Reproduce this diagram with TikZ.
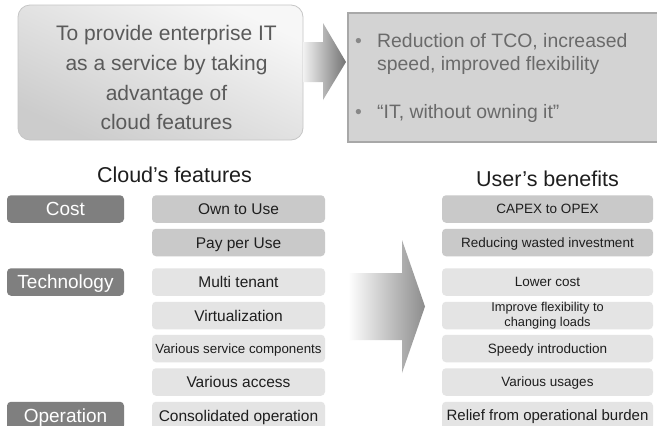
\documentclass[tikz,border=0pt]{standalone}
\usepackage{fontspec}
\setmainfont{Liberation Sans}
\definecolor{catfill}{HTML}{7F7F7F}
\definecolor{darkbox}{HTML}{C9C9C9}
\definecolor{lightbox}{HTML}{E4E4E4}
\definecolor{txt}{HTML}{1E1E1E}
\definecolor{toptxt}{HTML}{5A5A5A}
\definecolor{rtxt}{HTML}{6A6A6A}
\definecolor{rbfill}{HTML}{D3D3D3}
\definecolor{rbline}{HTML}{A8A8A8}
\definecolor{tlline}{HTML}{C6C6C6}
\tikzset{
 box/.style={rounded corners=4pt, draw=none, inner sep=0pt, minimum height=27.5pt, align=center, text=txt},
 cat/.style={box, fill=catfill, text=white, minimum width=117pt, font=\fontsize{19}{22}\selectfont, text height=13.6pt, text depth=0pt},
 feat/.style={box, minimum width=173pt, font=\fontsize{15.5}{17}\selectfont, text height=11.1pt, text depth=0pt},
 bene/.style={box, minimum width=211pt, font=\fontsize{13.5}{15}\selectfont, text height=9.7pt, text depth=0pt},
 dk/.style={fill=darkbox}, lt/.style={fill=lightbox},
 title/.style={anchor=base, font=\fontsize{21.5}{25}\selectfont, text=txt, inner sep=0pt},
 rtext/.style={anchor=base west, font=\fontsize{19.4}{22}\selectfont, text=rtxt, inner sep=0pt},
}
\begin{document}
\begin{tikzpicture}[x=1pt,y=-1pt]
\clip (0,0) rectangle (657,426);
\fill[white] (0,0) rectangle (657,426);

% top left box
\node[draw=tlline, line width=0.8pt, rounded corners=12pt, top color=white!97!black, bottom color=white!80!black, shading angle=-25, minimum width=285pt, minimum height=135pt, inner sep=0pt] (tl) at (160.5,72.5) {};
\node[align=center, font=\fontsize{21}{29.7}\selectfont, text=toptxt, inner sep=0pt] (tlt) at ([xshift=6pt,yshift=-5.3pt]tl.center)
 {To provide enterprise IT\\as a service by taking\\advantage of\\cloud features};

% top right box
\node[draw=rbline, line width=2pt, fill=rbfill, minimum width=320pt, minimum height=129pt, inner sep=0pt, anchor=north west] (rb) at (347,12) {};
\node[rtext, text=rtxt!80] (b1) at (355,47.5) {•};
\node[rtext] (r1) at (377,47.5) {Reduction of TCO, increased};
\node[rtext] (r2) at (377,70) {speed, improved flexibility};
\node[rtext, text=rtxt!80] (b2) at (355,118) {•};
\node[rtext] (r3) at (377,118) {“IT, without owning it”};

% top arrow
\shade[left color=white!95!black, right color=black!55]
 (303,42) -- (323,42) -- (323,23) -- (346,62) -- (323,100) -- (323,82) -- (303,82) -- cycle;

% titles
\node[title] (ct) at (174.5,182) {Cloud’s features};
\node[title] (ut) at (547.5,186) {User’s benefits};

% categories
\node[cat] (cost) at (65.5,209) {Cost};
\node[cat] (tech) at (65.5,282) {Technology};
\node[cat] (oper) at (65.5,415.5) {Operation};

% features
\node[feat, dk] (f1) at (238.5,209) {Own to Use};
\node[feat, dk] (f2) at (238.5,242.5) {Pay per Use};
\node[feat, lt] (f3) at (238.5,282) {Multi tenant};
\node[feat, lt] (f4) at (238.5,315.5) {Virtualization};
\node[feat, lt, font=\fontsize{13.3}{15}\selectfont, text height=9.5pt] (f5) at (238.5,348.5) {Various service components};
\node[feat, lt] (f6) at (238.5,382) {Various access};
\node[feat, lt] (f7) at (238.5,415.5) {Consolidated operation};

% big arrow
\shade[left color=white, right color=black!45]
 (348,273) -- (402,273) -- (402,240) -- (425,306.5) -- (402,373) -- (402,340) -- (348,340) -- cycle;

% benefits
\node[bene, dk] (u1) at (547.5,209) {CAPEX to OPEX};
\node[bene, dk] (u2) at (547.5,242.5) {Reducing wasted investment};
\node[bene, lt] (u3) at (547.5,282) {Lower cost};
\node[box, lt, minimum width=211pt, font=\fontsize{12.8}{15}\selectfont] (u4) at (547.5,315.5) {Improve flexibility to\\changing loads};
\node[bene, lt] (u5) at (547.5,348.5) {Speedy introduction};
\node[bene, lt] (u6) at (547.5,382) {Various usages};
\node[bene, lt, font=\fontsize{15}{17}\selectfont, text height=10.7pt] (u7) at (547.5,415.5) {Relief from operational burden};
\end{tikzpicture}
\end{document}
